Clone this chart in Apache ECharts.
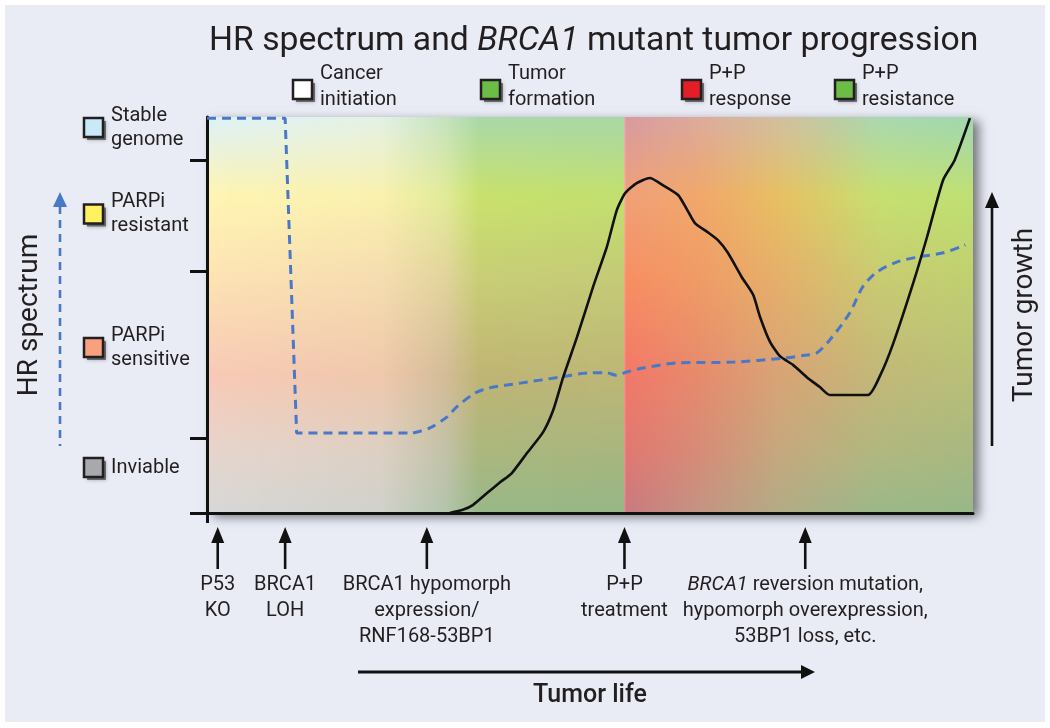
<!DOCTYPE html>
<html><head><meta charset="utf-8">
<script src="https://cdn.jsdelivr.net/npm/echarts@6/dist/echarts.min.js"></script>
<style>html,body{margin:0;padding:0;background:#fff}#chart{width:1050px;height:728px}</style>
</head><body><div id="chart"></div>
<script>
// ================= DATA =================
// HR spectrum levels (bottom -> top) and their band boundaries on the HR axis
const hrLevelNames = ['Inviable', 'PARPi\nsensitive', 'PARPi\nresistant', 'Stable\ngenome'];
const hrLevelBounds = [0, 19, 61, 89, 100];
// tumor phases (top legend)
const phaseNames = ['Cancer\ninitiation', 'Tumor\nformation', 'P+P\nresponse', 'P+P\nresistance'];
// events along tumor life (x axis, 0-100)
const eventX = [1.4, 10.2, 28.7, 54.5, 78.1];
const eventLabels = ['P53\nKO', 'BRCA1\nLOH', 'BRCA1 hypomorph\nexpression/\nRNF168-53BP1', 'P+P\ntreatment', 'BRCA1 reversion mutation,\nhypomorph overexpression,\n53BP1 loss, etc.'];
// HR spectrum trajectory (dashed blue); first 4 points are the sharp step
const hrX = [0, 10.2, 11.7, 26.9, 29.1, 31.3, 32.6, 35.0, 36.9, 40.9, 46.1, 50.0, 52.2, 53.4, 54.8, 56.9, 61.4, 68.7, 75.2, 78.3, 79.6, 81.3, 83.9, 85.6, 87.5, 90.1, 92.7, 96.1, 99.0];
const hrY = [99.7, 99.7, 20.2, 20.2, 21.5, 24.2, 26.8, 30.3, 31.6, 32.8, 34.3, 35.4, 35.4, 34.8, 35.6, 36.6, 37.9, 38.1, 39.1, 39.9, 40.4, 43.7, 50.5, 57.1, 60.9, 63.4, 64.6, 65.7, 67.7];
// tumor growth trajectory (solid black)
const tumorX = [31.7, 33.4, 34.7, 36.6, 38.3, 39.8, 41.8, 43.9, 45.2, 46.5, 48.3, 50.4, 52.2, 53.5, 54.6, 56.1, 57.8, 59.5, 61.5, 62.7, 63.7, 65.3, 66.7, 68.0, 69.8, 71.3, 72.2, 73.5, 74.8, 76.5, 78.3, 80.0, 81.3, 86.3, 87.9, 89.6, 92.2, 94.0, 96.1, 97.6, 99.6];
const tumorY = [0, 0.8, 2.0, 5.1, 7.8, 10.1, 15.2, 20.5, 26.0, 34.3, 44.4, 57.1, 67.2, 76.5, 80.8, 83.3, 84.6, 82.8, 80.3, 76.5, 73.2, 71.0, 68.9, 65.7, 59.6, 55.1, 49.5, 43.2, 39.6, 37.4, 34.3, 31.8, 29.8, 29.8, 34.8, 42.9, 58.1, 69.7, 84.1, 89.1, 99.7];

// ================= STYLE =================
const FONT = 'Roboto, "Noto Sans", sans-serif';
const TEXT = '#231f20';
const BLUE = '#4a78c8';
const levelColors = ['#a7a9ac', '#f9a07e', '#fff15f', '#c7e9f8'];
const phaseColors = ['#ffffff', '#6bbd45', '#e41e26', '#6bbd45'];
const leftLegendLayout = { boxX: 84, textX: 111, size: 19, centers: [467.5, 347.5, 214, 127.5], lineHeight: 24 };
const topLegendLayout = { boxX: [293, 481, 682, 835], boxY: 80, size: 19, lineHeight: 26 };
// background palette: vertical colour stops at key x positions (axis units)
const bgFrac = [0, 0.2, 0.4, 0.65, 0.85, 1];
const bgCols = [
  [0,     ['#ddf1f8','#fff5b2','#fde3b4','#f8c9b6','#e5d5cd','#d7d7d7']],
  [22.6,  ['#e4f1e6','#faf1ae','#f6ddb0','#f0c8ac','#ddd0c4','#d0d2cc']],
  [31.1,  ['#c4e2bf','#e2eb98','#e2d49c','#d4bc98','#c2c2a8','#b4c4ac']],
  [35.6,  ['#a9d8a9','#c9e16c','#c8ce76','#c0b574','#aab77e','#98b888']],
  [54.37, ['#a9d8a6','#c2e06e','#c4cb76','#bdb776','#a8b67e','#97b787']],
  [54.48, ['#f0b0b0','#f8b8a0','#f8a890','#f89890','#f09898','#e09898']],
  [54.7,  ['#d89aa0','#f0a078','#f78f62','#f27868','#e07872','#c97a80']],
  [64.4,  ['#dcab9c','#f1a86a','#f09c66','#e68b6c','#d68c78','#c49482']],
  [74.8,  ['#d2bf9e','#e7c062','#e6b06a','#d8a476','#c4a87e','#b2ac86']],
  [87.9,  ['#a9d8b0','#c6e070','#c8cc72','#c2b878','#b0b880','#9ab888']],
  [100,   ['#a0d8b0','#bfe072','#c0d070','#b8c078','#a8b880','#98b888']]
];
function hex2rgb(h) { return [parseInt(h.substr(1,2),16), parseInt(h.substr(3,2),16), parseInt(h.substr(5,2),16)]; }
function mix(a, b, t) { const A = hex2rgb(a), B = hex2rgb(b); return 'rgb(' + A.map((v, k) => Math.round(v + (B[k] - v) * t)).join(',') + ')'; }
function colsAt(u) {
  for (let k = 0; k < bgCols.length - 1; k++) {
    const [u0, c0] = bgCols[k], [u1, c1] = bgCols[k + 1];
    if (u <= u1) { const t = Math.max(0, Math.min(1, (u - u0) / (u1 - u0))); return c0.map((c, j) => mix(c, c1[j], t)); }
  }
  return bgCols[bgCols.length - 1][1].map(c => mix(c, c, 0));
}

const chart = echarts.init(document.getElementById('chart'));
const n = { fontSize: 20, fontFamily: FONT, color: TEXT, lineHeight: 26, align: 'center' };
const hrPairs = hrX.map((x, i) => [x, hrY[i]]);
const hrDash = { color: BLUE, width: 3, type: [9, 6] };
const option = {
  backgroundColor: 'transparent',
  animation: false,
  title: {
    left: 204, top: 20,
    text: '{n|HR spectrum and }{i|BRCA1}{n| mutant tumor progression}',
    textStyle: { fontWeight: 'normal', rich: {
      n: { fontSize: 33.7, fontFamily: FONT, color: TEXT, fontWeight: 'normal' },
      i: { fontSize: 33.7, fontFamily: FONT, color: TEXT, fontWeight: 'normal', fontStyle: 'italic' }
    } }
  },
  grid: {
    left: 207, right: 77, top: 117, bottom: 215, show: true, backgroundColor: '#c8c8c8', borderWidth: 0,
    shadowBlur: 10, shadowColor: 'rgba(0,0,0,0.5)', shadowOffsetX: 6, shadowOffsetY: 4
  },
  xAxis: {
    type: 'value', min: 0, max: 100, z: 5,
    name: 'Tumor life', nameLocation: 'middle', nameGap: 170,
    nameTextStyle: { fontSize: 25, fontFamily: FONT, color: TEXT, fontWeight: 500 },
    axisLine: { show: true, lineStyle: { color: '#111', width: 3 } },
    axisTick: { show: true, customValues: [0], length: 10, lineStyle: { color: '#111', width: 3 } },
    splitLine: { show: false },
    axisLabel: {
      show: true, customValues: eventX, margin: 59,
      formatter: function (v) {
        let i = 0, best = 1e9;
        eventX.forEach((e, k) => { if (Math.abs(e - v) < best) { best = Math.abs(e - v); i = k; } });
        const lines = eventLabels[i].split('\n');
        return lines.map(l => {
          if (l.indexOf('BRCA1 reversion') === 0) return '{i|BRCA1}{n|' + l.slice(5) + '}';
          return '{n|' + l + '}';
        }).join('\n');
      },
      rich: { n: n, i: Object.assign({}, n, { fontStyle: 'italic' }) }
    }
  },
  yAxis: [{
    type: 'value', min: 0, max: 100, z: 5,
    name: 'HR spectrum', nameLocation: 'middle', nameGap: 163, nameRotate: 90,
    nameTextStyle: { fontSize: 28, fontFamily: FONT, color: TEXT },
    axisLine: { show: true, lineStyle: { color: '#111', width: 3 } },
    axisTick: { show: true, customValues: hrLevelBounds.slice(0, 4), length: 17, lineStyle: { color: '#111', width: 3 } },
    axisLabel: { show: false }, splitLine: { show: false }
  }, {
    type: 'value', min: 0, max: 100, position: 'right',
    name: 'Tumor growth', nameLocation: 'middle', nameGap: 38, nameRotate: 90,
    nameTextStyle: { fontSize: 28, fontFamily: FONT, color: TEXT },
    axisLine: { show: false }, axisTick: { show: false }, axisLabel: { show: false }, splitLine: { show: false }
  }],
  series: [{
    type: 'custom', z: 1, silent: true, data: [[0, 0]],
    renderItem: function (params, api) {
      const p0 = api.coord([0, 0]), p1 = api.coord([100, 100]);
      const left = p0[0], right = p1[0], top = p1[1], bottom = p0[1];
      const step = 1.5, children = [];
      for (let x = left; x < right; x += step) {
        const u = (x + step / 2 - left) / (right - left) * 100;
        const cols = colsAt(u);
        children.push({ type: 'rect', shape: { x: x, y: top, width: Math.min(step + 0.7, right - x), height: bottom - top },
          style: { fill: { type: 'linear', x: 0, y: 0, x2: 0, y2: 1, colorStops: cols.map((c, j) => ({ offset: bgFrac[j], color: c })) } } });
      }
      return { type: 'group', children: children };
    }
  }, {
    // HR spectrum: sharp step part
    name: 'HR spectrum', type: 'line', yAxisIndex: 0, z: 6, showSymbol: false, smooth: false,
    data: hrPairs.slice(0, 4), lineStyle: hrDash
  }, {
    // HR spectrum: smooth part
    name: 'HR spectrum', type: 'line', yAxisIndex: 0, z: 6, showSymbol: false, smooth: 0.3,
    data: hrPairs.slice(3), lineStyle: hrDash
  }, {
    name: 'Tumor growth', type: 'line', yAxisIndex: 1, z: 6, showSymbol: false, smooth: 0.2,
    data: tumorX.map((x, i) => [x, tumorY[i]]),
    lineStyle: { color: '#111', width: 2.6 }
  }]
};
chart.setOption(option);

// ---------- decorations (legend boxes, arrows) ----------
const g = [];
g.push({ type: 'rect', z: -10, silent: true, shape: { x: 5, y: 5, width: 1040, height: 717 }, style: { fill: '#e9ecf5' } });
function box(x, y, s, fill) {
  g.push({ type: 'rect', z: 19, shape: { x: x + 3, y: y + 3, width: s, height: s },
    style: { fill: 'rgba(30,30,30,0.55)', shadowBlur: 4, shadowColor: 'rgba(30,30,30,0.6)' } });
  g.push({ type: 'rect', z: 20, shape: { x: x, y: y, width: s, height: s }, style: { fill: fill, stroke: '#231f20', lineWidth: 2.5 } });
}
hrLevelNames.forEach((name, i) => {
  const L = leftLegendLayout, cy = L.centers[i];
  box(L.boxX, cy - L.size / 2, L.size, levelColors[i]);
  g.push({ type: 'text', z: 20, x: L.textX, y: cy, style: { text: name, fontSize: 20, fontFamily: FONT, fill: TEXT,
    lineHeight: L.lineHeight, verticalAlign: 'middle', align: 'left' } });
});
phaseNames.forEach((name, i) => {
  const L = topLegendLayout, x = L.boxX[i];
  box(x, L.boxY, L.size, phaseColors[i]);
  g.push({ type: 'text', z: 20, x: x + 27, y: L.boxY + L.size / 2 - 3, style: { text: name, fontSize: 20, fontFamily: FONT, fill: TEXT,
    lineHeight: L.lineHeight, verticalAlign: 'middle', align: 'left' } });
});
// HR spectrum dashed arrow (left)
g.push({ type: 'line', z: 20, shape: { x1: 60, y1: 206, x2: 60, y2: 446 }, style: { stroke: BLUE, lineWidth: 2.6, lineDash: [8, 6] } });
g.push({ type: 'polygon', z: 20, shape: { points: [[53, 207], [67, 207], [60, 192]] }, style: { fill: BLUE } });
// Tumor growth arrow (right)
g.push({ type: 'line', z: 20, shape: { x1: 992, y1: 205, x2: 992, y2: 446 }, style: { stroke: '#111', lineWidth: 2.6 } });
g.push({ type: 'polygon', z: 20, shape: { points: [[985, 208], [999, 208], [992, 192]] }, style: { fill: '#111' } });
// event arrows
eventX.forEach(x => {
  const px = chart.convertToPixel({ xAxisIndex: 0 }, x);
  g.push({ type: 'line', z: 20, shape: { x1: px, y1: 540, x2: px, y2: 569 }, style: { stroke: '#111', lineWidth: 2.6 } });
  g.push({ type: 'polygon', z: 20, shape: { points: [[px - 6.5, 543], [px + 6.5, 543], [px, 527]] }, style: { fill: '#111' } });
});
// tumor life arrow
g.push({ type: 'line', z: 20, shape: { x1: 358, y1: 672, x2: 804, y2: 672 }, style: { stroke: '#111', lineWidth: 2.8 } });
g.push({ type: 'polygon', z: 20, shape: { points: [[801, 665], [801, 679], [815, 672]] }, style: { fill: '#111' } });
chart.setOption({ graphic: g });
</script></body></html>
